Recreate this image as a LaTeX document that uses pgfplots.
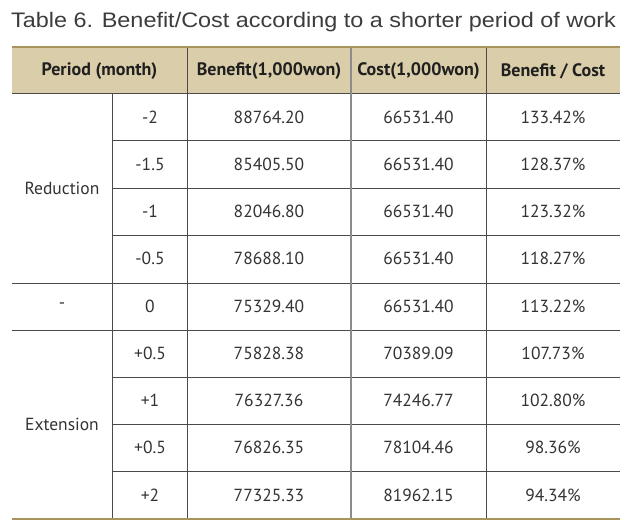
\documentclass[border=0pt]{standalone}
\usepackage{fontspec}
\setmainfont{PT Sans}
\newfontfamily\titlefont{Liberation Sans}
\usepackage{pgfplots}
\usepackage{pgfplotstable}
\pgfplotsset{compat=1.18}
\definecolor{bandfill}{HTML}{DACDA9}
\definecolor{ruleline}{HTML}{A8955E}
\definecolor{gridline}{HTML}{4A4A4A}
\definecolor{gridlight}{HTML}{8C8C8C}
\definecolor{bodytext}{HTML}{333333}
\definecolor{titletext}{HTML}{3C3C3C}

\pgfplotstableread{
y period benefit cost ratio
117   -2   88764.20 66531.40 133.42
164.5 -1.5 85405.50 66531.40 128.37
211.5 -1   82046.80 66531.40 123.32
258.5 -0.5 78688.10 66531.40 118.27
306   0    75329.40 66531.40 113.22
353.5 +0.5 75828.38 70389.09 107.73
400.5 +1   76327.36 74246.77 102.80
447.5 +0.5 76826.35 78104.46 98.36
495   +2   77325.33 81962.15 94.34
}\datatable

\pgfplotstableread{
y group
188 Reduction
306 -
424.5 Extension
}\grouptable

\begin{document}
\begin{tikzpicture}
\begin{axis}[
  width=640pt, height=521pt, scale only axis,
  xmin=0, xmax=640, ymin=0, ymax=521, y dir=reverse,
  hide axis, clip=false,
  every node near coord/.append style={anchor=center, inner sep=0pt,
     font=\fontsize{17.5}{19}\selectfont, text=bodytext},
]
% band and rules
\fill[bandfill] (axis cs:12,47) rectangle (axis cs:620,93);
\path (axis cs:0,0) rectangle (axis cs:640,521);
% horizontal separators
\draw[gridline, line width=0.9pt] (axis cs:112,140.5) -- (axis cs:620,140.5);
\draw[gridline, line width=0.9pt] (axis cs:112,188) -- (axis cs:620,188);
\draw[gridline, line width=0.9pt] (axis cs:112,235.5) -- (axis cs:620,235.5);
\draw[gridline, line width=0.9pt] (axis cs:112,377) -- (axis cs:620,377);
\draw[gridline, line width=0.9pt] (axis cs:112,424.5) -- (axis cs:620,424.5);
\draw[gridline, line width=0.9pt] (axis cs:112,471.5) -- (axis cs:620,471.5);
\draw[gridline, line width=0.9pt] (axis cs:12,93.5) -- (axis cs:620,93.5);
\draw[gridline, line width=0.9pt] (axis cs:12,283) -- (axis cs:620,283);
\draw[gridline, line width=0.9pt] (axis cs:12,330) -- (axis cs:620,330);
% vertical lines
\draw[gridline, line width=0.9pt] (axis cs:112,93.5) -- (axis cs:112,518);
\draw[gridline, line width=0.9pt] (axis cs:187,47) -- (axis cs:187,518);
\draw[gridlight, line width=1.1pt] (axis cs:351,47) -- (axis cs:351,518);
\draw[gridline, line width=0.9pt] (axis cs:486,47) -- (axis cs:486,518);
% thick top and bottom rules
\draw[ruleline, line width=2.2pt] (axis cs:12,47) -- (axis cs:620,47);
\draw[ruleline, line width=2.6pt] (axis cs:12,519) -- (axis cs:620,519);

% title
\node[anchor=west, inner sep=0pt, text=titletext, font=\titlefont\fontsize{21}{24}\selectfont]
  at (axis cs:11,22) {\scalebox{1.115}[1]{Table 6. Benefit/Cost according to a shorter period of work}};

% header
\node[anchor=center, inner sep=0pt, text=black!88, font=\bfseries\fontsize{18}{20}\selectfont] at (axis cs:99.5,71) {Period (month)};
\node[anchor=center, inner sep=0pt, text=black!88, font=\bfseries\fontsize{18}{20}\selectfont] at (axis cs:269,71) {Benefit(1,000won)};
\node[anchor=center, inner sep=0pt, text=black!88, font=\bfseries\fontsize{18}{20}\selectfont] at (axis cs:418.5,71) {Cost(1,000won)};
\node[anchor=center, inner sep=0pt, text=black!88, font=\bfseries\fontsize{18}{20}\selectfont] at (axis cs:553,71) {Benefit / Cost};

% body
\addplot[draw=none, mark=none, nodes near coords, point meta=explicit symbolic]
  table[x expr=62, y=y, meta=group] {\grouptable};
\addplot[draw=none, mark=none, nodes near coords, point meta=explicit symbolic]
  table[x expr=150, y=y, meta=period] {\datatable};
\addplot[draw=none, mark=none, nodes near coords, point meta=explicit symbolic]
  table[x expr=269, y=y, meta=benefit] {\datatable};
\addplot[draw=none, mark=none, nodes near coords, point meta=explicit symbolic]
  table[x expr=418.5, y=y, meta=cost] {\datatable};
\addplot[draw=none, mark=none, nodes near coords={\pgfplotspointmeta\%}, point meta=explicit symbolic]
  table[x expr=553, y=y, meta=ratio] {\datatable};
\end{axis}
\end{tikzpicture}
\end{document}
